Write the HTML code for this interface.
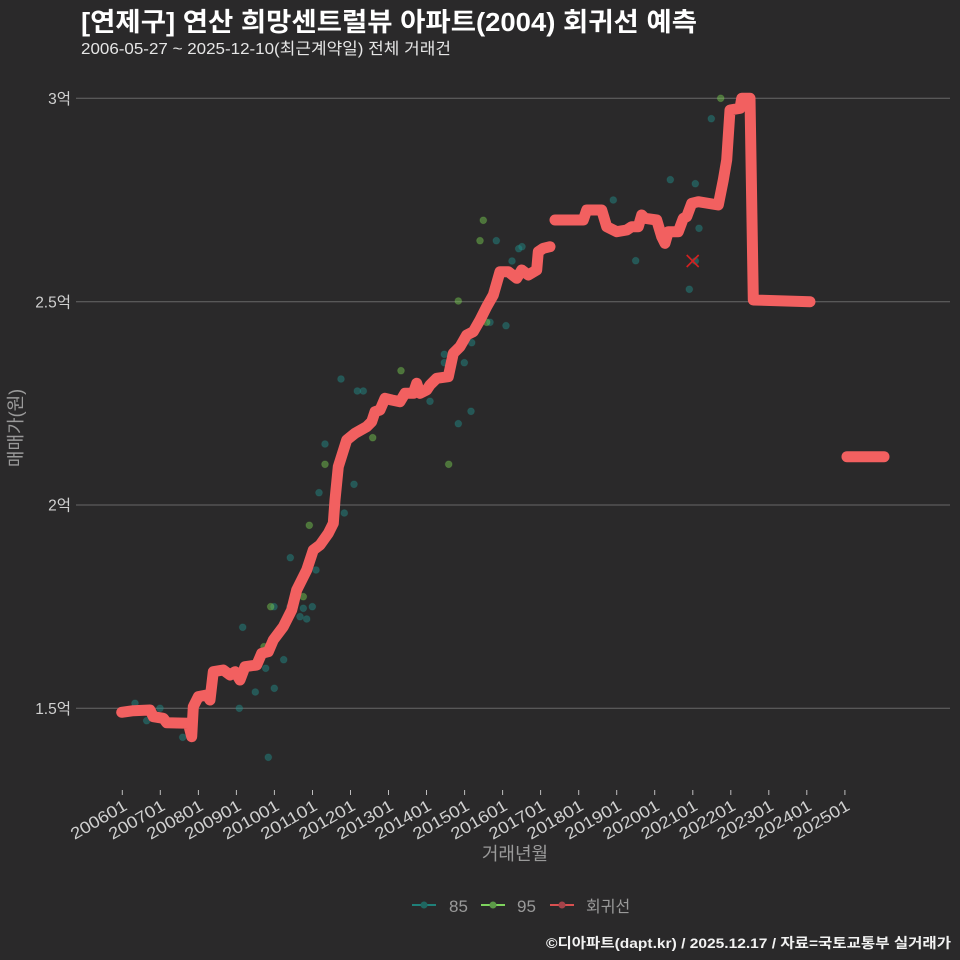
<!DOCTYPE html>
<html>
<head>
<meta charset="utf-8">
<style>
html,body{margin:0;padding:0;background:#2a292a;}
svg{display:block;}
text{font-family:"Liberation Sans","Noto Sans CJK KR",sans-serif;}
</style>
</head>
<body>
<svg width="960" height="960" viewBox="0 0 960 960" xmlns="http://www.w3.org/2000/svg">
<rect x="0" y="0" width="960" height="960" fill="#2a292a"/>

<text x="81" y="31" font-size="26" font-weight="bold" fill="#ffffff" textLength="616" lengthAdjust="spacingAndGlyphs">[연제구] 연산 희망센트럴뷰 아파트(2004) 회귀선 예측</text>
<text x="81" y="54" font-size="16" fill="#e6e6e6" textLength="370" lengthAdjust="spacingAndGlyphs">2006-05-27 ~ 2025-12-10(최근계약일) 전체 거래건</text>

<g stroke="#686868" stroke-width="1">
<line x1="76" y1="98.3" x2="950" y2="98.3"/>
<line x1="76" y1="301.7" x2="950" y2="301.7"/>
<line x1="76" y1="505" x2="950" y2="505"/>
<line x1="76" y1="708.3" x2="950" y2="708.3"/>
</g>

<g font-size="15.5" fill="#d0d0d0" text-anchor="end">
<text x="71" y="104">3억</text>
<text x="71" y="307.5">2.5억</text>
<text x="71" y="510.5">2억</text>
<text x="71" y="714">1.5억</text>
</g>
<text x="0" y="0" font-size="18" fill="#9a9a9a" text-anchor="middle" transform="translate(22,428) rotate(-90)">매매가(원)</text>

<g stroke="#bdbdbd" stroke-width="1">
<line x1="122.3" y1="790" x2="122.3" y2="795"/>
<line x1="160.3" y1="790" x2="160.3" y2="795"/>
<line x1="198.4" y1="790" x2="198.4" y2="795"/>
<line x1="236.4" y1="790" x2="236.4" y2="795"/>
<line x1="274.4" y1="790" x2="274.4" y2="795"/>
<line x1="312.5" y1="790" x2="312.5" y2="795"/>
<line x1="350.5" y1="790" x2="350.5" y2="795"/>
<line x1="388.5" y1="790" x2="388.5" y2="795"/>
<line x1="426.5" y1="790" x2="426.5" y2="795"/>
<line x1="464.6" y1="790" x2="464.6" y2="795"/>
<line x1="502.6" y1="790" x2="502.6" y2="795"/>
<line x1="540.6" y1="790" x2="540.6" y2="795"/>
<line x1="578.7" y1="790" x2="578.7" y2="795"/>
<line x1="616.7" y1="790" x2="616.7" y2="795"/>
<line x1="654.7" y1="790" x2="654.7" y2="795"/>
<line x1="692.8" y1="790" x2="692.8" y2="795"/>
<line x1="730.8" y1="790" x2="730.8" y2="795"/>
<line x1="768.8" y1="790" x2="768.8" y2="795"/>
<line x1="806.8" y1="790" x2="806.8" y2="795"/>
<line x1="844.9" y1="790" x2="844.9" y2="795"/>
</g>
<g font-size="16.5" fill="#d0d0d0" text-anchor="end">
<text transform="translate(128.3,809) rotate(-30)" textLength="62" lengthAdjust="spacingAndGlyphs">200601</text>
<text transform="translate(166.3,809) rotate(-30)" textLength="62" lengthAdjust="spacingAndGlyphs">200701</text>
<text transform="translate(204.4,809) rotate(-30)" textLength="62" lengthAdjust="spacingAndGlyphs">200801</text>
<text transform="translate(242.4,809) rotate(-30)" textLength="62" lengthAdjust="spacingAndGlyphs">200901</text>
<text transform="translate(280.4,809) rotate(-30)" textLength="62" lengthAdjust="spacingAndGlyphs">201001</text>
<text transform="translate(318.5,809) rotate(-30)" textLength="62" lengthAdjust="spacingAndGlyphs">201101</text>
<text transform="translate(356.5,809) rotate(-30)" textLength="62" lengthAdjust="spacingAndGlyphs">201201</text>
<text transform="translate(394.5,809) rotate(-30)" textLength="62" lengthAdjust="spacingAndGlyphs">201301</text>
<text transform="translate(432.5,809) rotate(-30)" textLength="62" lengthAdjust="spacingAndGlyphs">201401</text>
<text transform="translate(470.6,809) rotate(-30)" textLength="62" lengthAdjust="spacingAndGlyphs">201501</text>
<text transform="translate(508.6,809) rotate(-30)" textLength="62" lengthAdjust="spacingAndGlyphs">201601</text>
<text transform="translate(546.6,809) rotate(-30)" textLength="62" lengthAdjust="spacingAndGlyphs">201701</text>
<text transform="translate(584.7,809) rotate(-30)" textLength="62" lengthAdjust="spacingAndGlyphs">201801</text>
<text transform="translate(622.7,809) rotate(-30)" textLength="62" lengthAdjust="spacingAndGlyphs">201901</text>
<text transform="translate(660.7,809) rotate(-30)" textLength="62" lengthAdjust="spacingAndGlyphs">202001</text>
<text transform="translate(698.8,809) rotate(-30)" textLength="62" lengthAdjust="spacingAndGlyphs">202101</text>
<text transform="translate(736.8,809) rotate(-30)" textLength="62" lengthAdjust="spacingAndGlyphs">202201</text>
<text transform="translate(774.8,809) rotate(-30)" textLength="62" lengthAdjust="spacingAndGlyphs">202301</text>
<text transform="translate(812.8,809) rotate(-30)" textLength="62" lengthAdjust="spacingAndGlyphs">202401</text>
<text transform="translate(850.9,809) rotate(-30)" textLength="62" lengthAdjust="spacingAndGlyphs">202501</text>
</g>
<text x="515" y="860" font-size="18" fill="#9a9a9a" text-anchor="middle">거래년월</text>

<g fill="#21908c" fill-opacity="0.45" stroke="#21908c" stroke-opacity="0.2" stroke-width="1">
<circle cx="135" cy="703.3" r="3.4"/>
<circle cx="146.7" cy="720.7" r="3.4"/>
<circle cx="160" cy="708.3" r="3.4"/>
<circle cx="182.7" cy="737.3" r="3.4"/>
<circle cx="239.3" cy="708.3" r="3.4"/>
<circle cx="242.7" cy="627.3" r="3.4"/>
<circle cx="255.3" cy="692" r="3.4"/>
<circle cx="268.3" cy="757.3" r="3.4"/>
<circle cx="274.3" cy="688.3" r="3.4"/>
<circle cx="265.7" cy="668.3" r="3.4"/>
<circle cx="283.7" cy="659.7" r="3.4"/>
<circle cx="274" cy="606.7" r="3.4"/>
<circle cx="290" cy="606.7" r="3.4"/>
<circle cx="290.3" cy="557.7" r="3.4"/>
<circle cx="300" cy="616.7" r="3.4"/>
<circle cx="303.3" cy="608.3" r="3.4"/>
<circle cx="306.7" cy="619" r="3.4"/>
<circle cx="312.3" cy="606.7" r="3.4"/>
<circle cx="316" cy="570" r="3.4"/>
<circle cx="344.3" cy="513" r="3.4"/>
<circle cx="319" cy="492.7" r="3.4"/>
<circle cx="325" cy="444" r="3.4"/>
<circle cx="341" cy="379" r="3.4"/>
<circle cx="354" cy="484.3" r="3.4"/>
<circle cx="357.3" cy="391" r="3.4"/>
<circle cx="363.3" cy="391" r="3.4"/>
<circle cx="430" cy="401.3" r="3.4"/>
<circle cx="444.3" cy="354.3" r="3.4"/>
<circle cx="444.3" cy="362.7" r="3.4"/>
<circle cx="458.3" cy="423.7" r="3.4"/>
<circle cx="464.3" cy="362.7" r="3.4"/>
<circle cx="471" cy="411.3" r="3.4"/>
<circle cx="471.7" cy="342.7" r="3.4"/>
<circle cx="490" cy="322.3" r="3.4"/>
<circle cx="496.3" cy="240.7" r="3.4"/>
<circle cx="506" cy="325.7" r="3.4"/>
<circle cx="512" cy="261" r="3.4"/>
<circle cx="518.7" cy="248.7" r="3.4"/>
<circle cx="522" cy="246.7" r="3.4"/>
<circle cx="613.3" cy="200" r="3.4"/>
<circle cx="635.7" cy="260.7" r="3.4"/>
<circle cx="670.3" cy="179.7" r="3.4"/>
<circle cx="695.3" cy="183.7" r="3.4"/>
<circle cx="699" cy="228.3" r="3.4"/>
<circle cx="695.3" cy="261" r="3.4"/>
<circle cx="689.3" cy="289.3" r="3.4"/>
<circle cx="711.3" cy="118.7" r="3.4"/>
</g>
<g fill="#7ad151" fill-opacity="0.45" stroke="#7ad151" stroke-opacity="0.2" stroke-width="1">
<circle cx="264" cy="646.7" r="3.4"/>
<circle cx="270.7" cy="606.7" r="3.4"/>
<circle cx="303.3" cy="596.7" r="3.4"/>
<circle cx="309.3" cy="525.3" r="3.4"/>
<circle cx="325" cy="464.3" r="3.4"/>
<circle cx="372.7" cy="437.7" r="3.4"/>
<circle cx="401" cy="370.7" r="3.4"/>
<circle cx="448.7" cy="464.3" r="3.4"/>
<circle cx="458.3" cy="301" r="3.4"/>
<circle cx="480" cy="240.7" r="3.4"/>
<circle cx="483.3" cy="220.3" r="3.4"/>
<circle cx="486.7" cy="322.3" r="3.4"/>
<circle cx="720.7" cy="98.3" r="3.4"/>
</g>

<g stroke="#d42020" stroke-width="1.6">
<line x1="686.7" y1="255" x2="698.7" y2="267"/>
<line x1="686.7" y1="267" x2="698.7" y2="255"/>
</g>

<g fill="none" stroke="#f26060" stroke-width="11" stroke-linecap="round" stroke-linejoin="round">
<polyline points="121.7,712.3 133.3,710.7 150,710 153.3,716.7 163.3,718.3 166.7,722.7 188.3,723.3 190,730 191.7,736.7 193.3,706.7 198.3,696.7 206.7,695 210,700 213.3,671.7 223.3,670 230,675 235,671.7 240,680 245,666.7 256.7,665 261.7,653.3 268.3,651.7 273.3,640 283.3,626.7 291.7,610 296.7,590 301.7,580 306.7,570 313.3,550 320,545 328.3,533.3 333.3,523.3 335,500 338.3,466.7 346.7,440 355,433.3 366.7,426.7 371.7,421.7 375,411.7 380,410 385,398.3 391.7,400 400,401.7 405,393.3 413.3,393.3 416.7,383.3 420,393.3 426.7,390 430,385 436.7,378.3 448.3,376.7 453.3,353.3 460,346.7 466.7,335 473.3,331.7 480,320 486.7,306.7 493.3,295 500,271.7 508.3,271.7 516.7,278.3 521.7,270 528.3,275 536.7,270 538.3,251.7 543.3,248.3 550,246.7"/>
<polyline points="555,220 583.3,220 586.7,210 601.7,210 606.7,226.7 616.7,231.7 626.7,230 631.7,226.7 638.3,226.7 641.7,215 645,218.3 656.7,220 661.7,236.7 665,243.3 668.3,231.7 678.3,231.7 683.3,218.3 686.7,216.7 691.7,203.3 698.3,201.7 718.3,205 723.3,180 726.7,160 730,110 740,108.3 741.7,98.3 750,98.3 753.3,300 810,301.7"/>
<polyline points="847,456.7 884,456.7"/>
</g>

<line x1="412" y1="905" x2="436" y2="905" stroke="#1f8079" stroke-width="2"/>
<circle cx="424" cy="905" r="3.5" fill="#1f6660"/>
<text x="449" y="912" font-size="17" fill="#9a9a9a">85</text>
<line x1="481" y1="905" x2="505" y2="905" stroke="#7ed35e" stroke-width="2"/>
<circle cx="493" cy="905" r="3.5" fill="#5c9a48"/>
<text x="517" y="912" font-size="17" fill="#9a9a9a">95</text>
<line x1="550" y1="905" x2="574" y2="905" stroke="#d95050" stroke-width="2"/>
<circle cx="562" cy="905" r="3.5" fill="#a5434a"/>
<text x="586" y="912" font-size="16" fill="#9a9a9a">회귀선</text>

<text x="951" y="948" font-size="14" font-weight="bold" fill="#f2f2f2" text-anchor="end" textLength="405" lengthAdjust="spacingAndGlyphs">©디아파트(dapt.kr) / 2025.12.17 / 자료=국토교통부 실거래가</text>
</svg>
</body>
</html>
